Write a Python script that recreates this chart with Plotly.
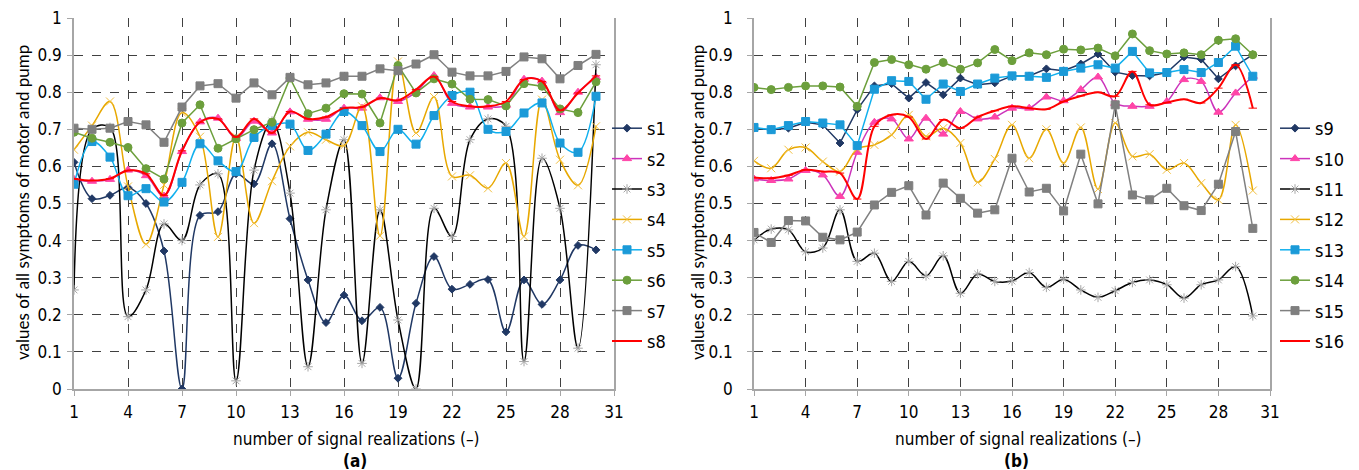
import plotly.graph_objects as go

x = list(range(1, 31))
xticks = list(range(1, 32, 3))
yticks = [round(i * 0.1, 1) for i in range(11)]

# ---- chart (a) ----
s1 = [0.611, 0.513, 0.522, 0.543, 0.500, 0.372, 0.000, 0.468, 0.478, 0.580,
      0.553, 0.661, 0.459, 0.294, 0.179, 0.253, 0.184, 0.220, 0.029, 0.231,
      0.357, 0.269, 0.282, 0.295, 0.154, 0.294, 0.228, 0.294, 0.387, 0.375]
s2 = [0.565, 0.560, 0.565, 0.590, 0.575, 0.520, 0.640, 0.720, 0.730, 0.675,
      0.722, 0.690, 0.747, 0.727, 0.727, 0.757, 0.757, 0.785, 0.775, 0.800,
      0.845, 0.770, 0.760, 0.760, 0.765, 0.835, 0.830, 0.745, 0.800, 0.840]
s3 = [0.267, 0.700, 0.705, 0.195, 0.267, 0.445, 0.400, 0.550, 0.580, 0.022,
      0.590, 0.722, 0.528, 0.060, 0.483, 0.672, 0.069, 0.483, 0.186, 0.000,
      0.487, 0.411, 0.672, 0.728, 0.708, 0.074, 0.622, 0.487, 0.110, 0.874]
s4 = [0.645, 0.710, 0.775, 0.546, 0.390, 0.550, 0.745, 0.680, 0.410, 0.680,
      0.447, 0.560, 0.654, 0.692, 0.672, 0.656, 0.762, 0.413, 0.883, 0.690,
      0.787, 0.573, 0.576, 0.541, 0.609, 0.411, 0.780, 0.618, 0.549, 0.708]
s5 = [0.552, 0.667, 0.625, 0.521, 0.540, 0.504, 0.557, 0.661, 0.615, 0.586,
      0.678, 0.710, 0.714, 0.643, 0.687, 0.748, 0.710, 0.640, 0.700, 0.660,
      0.737, 0.791, 0.800, 0.700, 0.694, 0.744, 0.771, 0.663, 0.638, 0.789]
s6 = [0.692, 0.676, 0.665, 0.651, 0.594, 0.566, 0.717, 0.766, 0.649, 0.674,
      0.699, 0.719, 0.838, 0.742, 0.757, 0.796, 0.795, 0.717, 0.872, 0.798,
      0.836, 0.822, 0.781, 0.780, 0.763, 0.823, 0.816, 0.755, 0.745, 0.828]
s7 = [0.703, 0.700, 0.703, 0.721, 0.712, 0.665, 0.760, 0.817, 0.823, 0.784,
      0.825, 0.793, 0.840, 0.820, 0.825, 0.843, 0.843, 0.863, 0.858, 0.876,
      0.901, 0.854, 0.844, 0.844, 0.856, 0.895, 0.890, 0.836, 0.872, 0.902]
s8 = [0.567, 0.562, 0.567, 0.589, 0.580, 0.522, 0.642, 0.719, 0.728, 0.679,
      0.728, 0.690, 0.748, 0.728, 0.733, 0.757, 0.760, 0.784, 0.778, 0.807,
      0.842, 0.775, 0.762, 0.762, 0.775, 0.834, 0.829, 0.751, 0.798, 0.844]

# ---- chart (b) ----
s9 = [0.703, 0.699, 0.703, 0.719, 0.712, 0.663, 0.753, 0.817, 0.823, 0.784,
      0.826, 0.793, 0.838, 0.820, 0.825, 0.844, 0.844, 0.863, 0.858, 0.876,
      0.903, 0.854, 0.845, 0.844, 0.853, 0.895, 0.889, 0.836, 0.871, 0.901]
s10 = [0.566, 0.562, 0.566, 0.589, 0.577, 0.519, 0.638, 0.719, 0.728, 0.674,
       0.730, 0.687, 0.748, 0.728, 0.733, 0.757, 0.757, 0.787, 0.777, 0.807,
       0.841, 0.770, 0.762, 0.762, 0.775, 0.834, 0.829, 0.746, 0.798, 0.843]
s11 = [0.402, 0.431, 0.429, 0.370, 0.380, 0.483, 0.344, 0.366, 0.290, 0.344,
       0.305, 0.359, 0.258, 0.310, 0.290, 0.291, 0.314, 0.274, 0.296, 0.267,
       0.247, 0.265, 0.287, 0.294, 0.281, 0.245, 0.281, 0.294, 0.330, 0.197]
s12 = [0.615, 0.595, 0.645, 0.651, 0.613, 0.586, 0.647, 0.658, 0.685, 0.739,
       0.681, 0.703, 0.663, 0.557, 0.620, 0.712, 0.622, 0.700, 0.609, 0.705,
       0.539, 0.717, 0.627, 0.633, 0.591, 0.609, 0.555, 0.510, 0.712, 0.535]
s13 = [0.705, 0.699, 0.710, 0.721, 0.717, 0.712, 0.656, 0.808, 0.831, 0.829,
       0.781, 0.822, 0.802, 0.822, 0.838, 0.844, 0.843, 0.840, 0.856, 0.865,
       0.874, 0.865, 0.910, 0.852, 0.853, 0.861, 0.853, 0.880, 0.924, 0.843]
s14 = [0.813, 0.807, 0.813, 0.817, 0.817, 0.814, 0.762, 0.880, 0.888, 0.874,
       0.862, 0.880, 0.862, 0.879, 0.915, 0.885, 0.906, 0.901, 0.916, 0.914,
       0.919, 0.898, 0.957, 0.912, 0.903, 0.906, 0.901, 0.940, 0.944, 0.901]
s15 = [0.422, 0.395, 0.454, 0.453, 0.409, 0.402, 0.423, 0.496, 0.530, 0.548,
       0.469, 0.555, 0.514, 0.474, 0.483, 0.622, 0.531, 0.541, 0.480, 0.633,
       0.499, 0.766, 0.523, 0.510, 0.541, 0.494, 0.481, 0.552, 0.694, 0.433]
s16 = [0.570, 0.568, 0.576, 0.591, 0.586, 0.582, 0.512, 0.708, 0.739, 0.733,
       0.674, 0.726, 0.703, 0.733, 0.750, 0.762, 0.757, 0.754, 0.775, 0.790,
       0.800, 0.789, 0.856, 0.766, 0.772, 0.781, 0.771, 0.811, 0.874, 0.757]

left_series = [("s1", s1), ("s2", s2), ("s3", s3), ("s4", s4),
               ("s5", s5), ("s6", s6), ("s7", s7), ("s8", s8)]
right_series = [("s9", s9), ("s10", s10), ("s11", s11), ("s12", s12),
                ("s13", s13), ("s14", s14), ("s15", s15), ("s16", s16)]

# style per position: (line colour, marker colour, symbol, size, shape, width)
styles = [
    ("#203864", "#203864", "diamond", 6, "spline", 1.5),
    ("#cc33bb", "#ff45a8", "triangle-up", 8, "spline", 1.5),
    ("#000000", "#a6a6a6", "asterisk-open", 8, "spline", 1.5),
    ("#e8a800", "#f2c040", "x-thin-open", 8, "spline", 1.5),
    ("#11b0ee", "#1b9ad8", "square", 8, "spline", 1.5),
    ("#6c9f3c", "#6c9f3c", "circle", 8, "linear", 1.5),
    ("#808080", "#7f7f7f", "square", 8, "linear", 1.5),
    ("#ff0000", "#ff0000", "line-ew-open", 6, "spline", 2),
]
right_shapes = ["linear", "spline", "spline", "spline", "linear", "linear", "linear", "spline"]

fig = go.Figure()
for i, (name, vals) in enumerate(left_series):
    lc, mc, sym, sz, shp, w = styles[i]
    fig.add_trace(go.Scatter(
        x=x, y=vals, name=name, mode="lines+markers",
        line=dict(color=lc, width=w, shape=shp),
        marker=dict(color=mc, symbol=sym, size=sz, line=dict(color=mc, width=1)),
        xaxis="x", yaxis="y", legend="legend", legendgroup=name))
for i, (name, vals) in enumerate(right_series):
    lc, mc, sym, sz, shp, w = styles[i]
    fig.add_trace(go.Scatter(
        x=x, y=vals, name=name, mode="lines+markers",
        line=dict(color=lc, width=w, shape=right_shapes[i]),
        marker=dict(color=mc, symbol=sym, size=sz, line=dict(color=mc, width=1)),
        xaxis="x2", yaxis="y2", legend="legend2", legendgroup=name))

W, H = 1359, 470


def px(v):
    return v / W


def py(v):
    return 1 - v / H


narrow = "Liberation Sans Narrow, DejaVu Sans Condensed, Lato"
tickfont = dict(family=narrow, size=17, color="#000")
axis_common = dict(
    showgrid=True, gridcolor="#404040", griddash="dash", gridwidth=1,
    showline=True, linecolor="#a6a6a6", linewidth=1.5,
    ticks="outside", ticklen=5, tickcolor="#a6a6a6",
    zeroline=False, tickfont=tickfont, automargin=False,
)
fig.update_layout(
    width=W, height=H, margin=dict(l=0, r=0, t=0, b=0, autoexpand=False),
    paper_bgcolor="white", plot_bgcolor="white",
    xaxis=dict(domain=[px(74), px(614)], range=[1, 31], tickvals=xticks, anchor="y",
               ticklabelstandoff=2, **axis_common),
    yaxis=dict(domain=[py(389), py(18)], range=[0, 1], tickvals=yticks, anchor="x",
               mirror=True, ticklabelstandoff=2, **axis_common),
    xaxis2=dict(domain=[px(754), px(1270)], range=[1, 31], tickvals=xticks, anchor="y2",
                ticklabelstandoff=2, **axis_common),
    yaxis2=dict(domain=[py(389), py(18)], range=[0, 1], tickvals=yticks, anchor="x2",
                mirror=True, ticklabelstandoff=11, **axis_common),
    legend=dict(x=px(607), y=py(110), xanchor="left", yanchor="top",
                font=dict(family=narrow, size=18, color="#000"),
                itemwidth=30, tracegroupgap=4, bgcolor="rgba(0,0,0,0)"),
    legend2=dict(x=px(1275), y=py(110), xanchor="left", yanchor="top",
                 font=dict(family=narrow, size=18, color="#000"),
                 itemwidth=30, tracegroupgap=4, bgcolor="rgba(0,0,0,0)"),
    showlegend=True,
)

ytitle = "values of all symptoms of motor and pump"
xtitle = "number of signal realizations (\u2013)"
tfont = dict(family="Lato", size=17, color="#000")
hfont = dict(family=narrow, size=17, color="#000")
ann = [
    dict(text=ytitle, x=px(22), y=py(203), textangle=-90, font=tfont),
    dict(text=ytitle, x=px(697), y=py(203), textangle=-90, font=tfont),
    dict(text=xtitle, x=px(356), y=py(439), font=hfont),
    dict(text=xtitle, x=px(1018), y=py(439), font=hfont),
    dict(text="<b>(a)</b>", x=px(355), y=py(461), font=hfont),
    dict(text="<b>(b)</b>", x=px(1016), y=py(461), font=hfont),
]
for a in ann:
    a.update(xref="paper", yref="paper", showarrow=False, xanchor="center", yanchor="middle")
fig.update_layout(annotations=ann)

fig.write_html("out.html", config={"displayModeBar": False},
               post_script="document.body.style.margin='0px';")
